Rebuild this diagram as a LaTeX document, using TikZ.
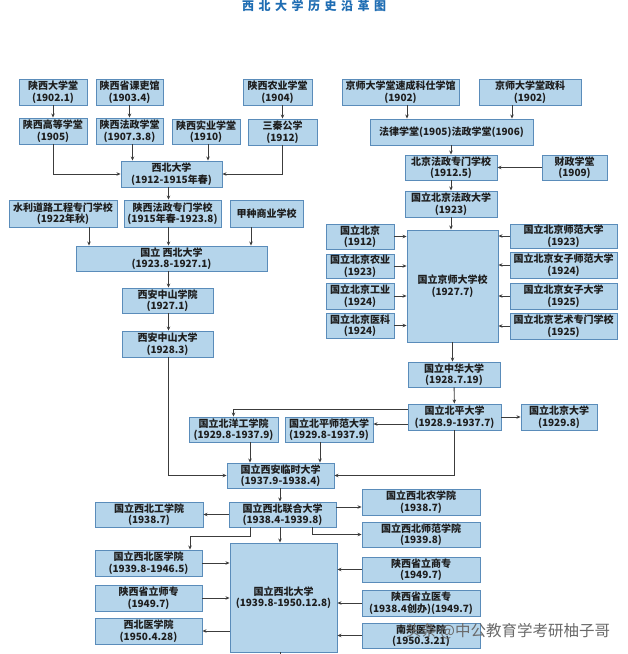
\documentclass[tikz,border=0pt]{standalone}
\usepackage{fontspec}
\setmainfont{Noto Sans CJK SC}
\usetikzlibrary{arrows.meta}
\definecolor{boxfill}{HTML}{B5D5EB}
\definecolor{boxline}{HTML}{5A8CBA}
\definecolor{conn}{HTML}{3C3C3C}
\definecolor{titleblue}{HTML}{1F6DB3}
\definecolor{txt}{HTML}{1E1E1E}
\definecolor{wmgray}{HTML}{6A6A6A}
\newcommand{\bx}[6]{\node[box, minimum width={#4pt-#2pt}, minimum height={#5pt-#3pt}] (#1) at ({(#2+#4)/2},{(#3+#5)/2}) {#6};}
\begin{document}
\begin{tikzpicture}[x=1pt, y=-1pt,
  box/.style={draw=boxline, fill=boxfill, line width=0.9pt, inner sep=0pt, align=center, text=txt, font=\fontsize{10}{11.5}\selectfont\bfseries},
  arr/.style={draw=conn, line width=0.9pt, -{Stealth[length=4pt,width=3.5pt]}},
  plain/.style={draw=conn, line width=0.9pt},
  titlestyle/.style={text=titleblue, font=\fontsize{12}{14}\selectfont\bfseries, inner sep=0pt},
  wm/.style={text=wmgray, font=\fontsize{15.5}{17}\selectfont, inner sep=0pt}]
\fill[white] (0,0) rectangle (628,654);
\useasboundingbox (0,0) rectangle (628,654);

\node[titlestyle] (title) at (314,6) {西\hspace{4.5pt}北\hspace{4.5pt}大\hspace{4.5pt}学\hspace{4.5pt}历\hspace{4.5pt}史\hspace{4.5pt}沿\hspace{4.5pt}革\hspace{4.5pt}图};

\bx{sdxt}{19}{79}{87}{105}{陕西大学堂\\(1902.1)}
\bx{skl}{96}{79}{163}{105}{陕西省课吏馆\\(1903.4)}
\bx{sny}{243}{79}{312}{105}{陕西农业学堂\\(1904)}
\bx{sxg}{342}{79}{459}{105}{京师大学堂速成科仕学馆\\(1902)}
\bx{zk}{479}{79}{581}{105}{京师大学堂政科\\(1902)}
\bx{sgd}{19}{118}{87}{144}{陕西高等学堂\\(1905)}
\bx{sfz}{96}{118}{163}{144}{陕西法政学堂\\(1907.3.8)}
\bx{ssy}{172}{119}{240}{144}{陕西实业学堂\\(1910)}
\bx{sqg}{248}{119}{317}{145}{三秦公学\\(1912)}
\bx{flxt}{370}{119}{533}{145}{法律学堂(1905)法政学堂(1906)}
\bx{xbdx}{121}{161}{222}{187}{西北大学\\(1912-1915年春)}
\bx{bjfz}{405}{155}{497}{180}{北京法政专门学校\\(1912.5)}
\bx{czxt}{542}{155}{607}{180}{财政学堂\\(1909)}
\bx{gbfd}{405}{191}{497}{217}{国立北京法政大学\\(1923)}
\bx{slx}{9}{200}{117}{227}{水利道路工程专门学校\\(1922年秋)}
\bx{sfzz}{124}{200}{221}{227}{陕西法政专门学校\\(1915年春-1923.8)}
\bx{jzsy}{230}{200}{303}{227}{甲种商业学校}
\bx{gxbd}{76}{246}{267}{271}{国立\ 西北大学\\(1923.8-1927.1)}
\bx{jsdx}{407}{230}{498}{342}{国立京师大学校\\(1927.7)}
\bx{gbj}{326}{224}{394}{249}{国立北京\\(1912)}
\bx{gbny}{326}{254}{394}{278}{国立北京农业\\(1923)}
\bx{gbgy}{326}{283}{394}{309}{国立北京工业\\(1924)}
\bx{gbyk}{326}{313}{394}{338}{国立北京医科\\(1924)}
\bx{gbsf}{510}{224}{617}{248}{国立北京师范大学\\(1923)}
\bx{gbnsf}{510}{252}{617}{278}{国立北京女子师范大学\\(1924)}
\bx{gbnd}{510}{283}{617}{309}{国立北京女子大学\\(1925)}
\bx{gbys}{510}{313}{617}{339}{国立北京艺术专门学校\\(1925)}
\bx{xazsxy}{122}{288}{213}{313}{西安中山学院\\(1927.1)}
\bx{xazsdx}{122}{331}{213}{357}{西安中山大学\\(1928.3)}
\bx{zhdx}{408}{362}{500}{387}{国立中华大学\\(1928.7.19)}
\bx{bpdx}{408}{404}{501}{430}{国立北平大学\\(1928.9-1937.7)}
\bx{bjdx}{521}{404}{597}{430}{国立北京大学\\(1929.8)}
\bx{byg}{189}{417}{278}{442}{国立北洋工学院\\(1929.8-1937.9)}
\bx{bps}{285}{417}{373}{442}{国立北平师范大学\\(1929.8-1937.9)}
\bx{lsdx}{227}{463}{334}{488}{国立西安临时大学\\(1937.9-1938.4)}
\bx{lhdx}{229}{502}{336}{527}{国立西北联合大学\\(1938.4-1939.8)}
\bx{xbgxy}{95}{502}{203}{527}{国立西北工学院\\(1938.7)}
\bx{nxy}{362}{489}{480}{515}{国立西北农学院\\(1938.7)}
\bx{sfxy}{362}{522}{480}{547}{国立西北师范学院\\(1939.8)}
\bx{xbdx2}{230}{543}{337}{652}{国立西北大学\\(1939.8-1950.12.8)}
\bx{yxy}{95}{550}{202}{576}{国立西北医学院\\(1939.8-1946.5)}
\bx{ssz}{95}{585}{202}{611}{陕西省立师专\\(1949.7)}
\bx{xbyxy}{95}{618}{202}{644}{西北医学院\\(1950.4.28)}
\bx{ssc}{362}{557}{480}{582}{陕西省立商专\\(1949.7)}
\bx{ssyz}{362}{590}{480}{616}{陕西省立医专\\(1938.4创办)(1949.7)}
\bx{nan}{362}{623}{480}{648}{南郑医学院\\(1950.3.21)}

% left upper part
\draw[arr] (sdxt) -- (sgd);
\draw[arr] (skl) -- (sfz);
\draw[arr] (sqg.north |- sny.south) -- (sqg.north);
\draw[arr] (sgd.south) |- (xbdx.west);
\coordinate (c1) at ([xshift=3pt]sfz.south);
\draw[arr] (c1) -- (c1 |- xbdx.north);
\coordinate (c2) at ([xshift=2pt]ssy.south);
\draw[arr] (c2) -- (c2 |- xbdx.north);
\draw[arr] (sqg.south) |- (xbdx.east);
\coordinate (c3) at ([xshift=-3pt]xbdx.south);
\draw[arr] (c3) -- (c3 |- sfzz.north);
\coordinate (c4) at ([xshift=26pt]slx.south);
\draw[arr] (c4) -- (c4 |- gxbd.north);
\draw[arr] (c3 |- sfzz.south) -- (c3 |- gxbd.north);
\coordinate (c5) at ([xshift=-15.5pt]jzsy.south);
\draw[arr] (c5) -- (c5 |- gxbd.north);
\draw[arr] (c3 |- gxbd.south) -- (c3 |- xazsxy.north);
\draw[arr] (c3 |- xazsxy.south) -- (c3 |- xazsdx.north);
\draw[arr] (c3 |- xazsdx.south) |- (lsdx.west);

% right upper part
\coordinate (c6) at ([xshift=6.5pt]sxg.south);
\draw[arr] (c6) -- (c6 |- flxt.north);
\coordinate (c7) at ([xshift=-18pt]zk.south);
\draw[arr] (c7) -- (c7 |- flxt.north);
\draw[arr] (bjfz.north |- flxt.south) -- (bjfz.north);
\draw[arr] (czxt) -- (bjfz);
\draw[arr] (bjfz) -- (gbfd);
\draw[arr] (gbfd.south) -- (gbfd.south |- jsdx.north);
\foreach \n in {gbj,gbny,gbgy,gbyk} \draw[arr] (\n.east) -- (\n.east -| jsdx.west);
\foreach \n in {gbsf,gbnsf,gbnd,gbys} \draw[arr] (\n.west) -- (\n.west -| jsdx.east);
\draw[arr] (jsdx.south) -- (jsdx.south |- zhdx.north);
\draw[arr] (zhdx) -- (bpdx);
\coordinate (c8) at ([yshift=8pt]bpdx.west);
\draw[arr] (c8) -| (byg.north);
\coordinate (c9) at ([yshift=-7pt]bpdx.west);
\draw[arr] (c9) -- (c9 -| bps.east);
\draw[arr] (bpdx) -- (bjdx);
\draw[arr] (bpdx.south) |- (lsdx.east);
\coordinate (c10) at ([xshift=16.5pt]byg.south);
\draw[arr] (c10) -- (c10 |- lsdx.north);
\coordinate (c11) at ([xshift=-9pt]bps.south);
\draw[arr] (c11) -- (c11 |- lsdx.north);

% lower part
\coordinate (c12) at ([xshift=-2.5pt]lhdx.north);
\draw[arr] (c12 |- lsdx.south) -- (c12);
\draw[arr] (lhdx) -- (xbgxy);
\coordinate (c13) at ([yshift=7.5pt]lhdx.east);
\draw[arr] (c13) -- (c13 -| nxy.west);
\coordinate (c14) at ([xshift=-32.5pt]lhdx.south);
\coordinate (c15) at ([xshift=41.5pt]yxy.north);
\draw[arr] (c14) -- ++(0,9) -| (c15);
\coordinate (c16) at ([xshift=29.5pt]lhdx.south);
\draw[arr] (c16) |- (sfxy.west);
\draw[arr] (c12 |- lhdx.south) -- (c12 |- xbdx2.north);
\draw[arr] (yxy.east) -- (yxy.east -| xbdx2.west);
\draw[arr] (ssz.east) -- (ssz.east -| xbdx2.west);
\draw[arr] (xbdx2.west |- xbyxy.east) -- (xbyxy.east);
\foreach \n in {ssc,ssyz,nan} \draw[arr] (\n.west) -- (\n.west -| xbdx2.east);
\coordinate (bot) at (280,660);
\draw[plain] (c12 |- xbdx2.south) -- (bot);

\node[wm] (wmark) at (508,631) {头条 @中公教育学考研柚子哥};
\end{tikzpicture}
\end{document}
